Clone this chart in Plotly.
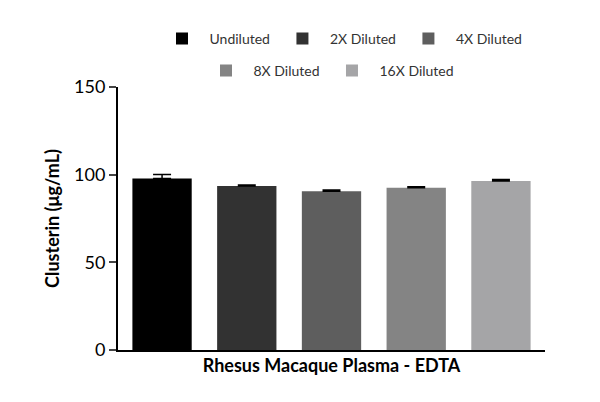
import plotly.graph_objects as go

names = ["Undiluted", "2X Diluted", "4X Diluted", "8X Diluted", "16X Diluted"]
values = [97.8, 93.6, 90.6, 92.6, 96.4]
errors = [2.3, 0.5, 0.6, 0.5, 0.8]
colors = ["#000000", "#323232", "#5e5e5e", "#848484", "#a5a5a7"]
legend_ids = ["legend", "legend", "legend", "legend2", "legend2"]

fig = go.Figure()
for i, (n, v, e, c, lg) in enumerate(zip(names, values, errors, colors, legend_ids)):
    fig.add_trace(go.Bar(
        x=[i], y=[v], name=n, marker=dict(color=c, line=dict(width=0)), width=0.7,
        legend=lg,
        error_y=dict(type="data", symmetric=False, array=[e], arrayminus=[0],
                     color="black", thickness=1.5, width=9),
    ))

leg_common = dict(orientation="h", xref="container", yref="container", xanchor="center",
                  yanchor="middle", itemwidth=45, font=dict(size=14, color="#333"),
                  traceorder="normal", bgcolor="rgba(0,0,0,0)")

fig.update_layout(
    width=600, height=402, plot_bgcolor="white", paper_bgcolor="white",
    margin=dict(l=110, r=63, t=59, b=60),
    font=dict(family="Lato, Open Sans, sans-serif", color="#000"),
    showlegend=True,
    legend=dict(x=0.555, y=1 - 31 / 402, **leg_common),
    legend2=dict(x=0.535, y=1 - 63 / 402, **leg_common),
    xaxis=dict(range=[-0.52, 4.52], showticklabels=False, ticks="", showgrid=False,
               showline=True, linecolor="black", linewidth=2, zeroline=False, automargin=False,
               title=dict(text="<b>Rhesus Macaque Plasma - EDTA</b>", font=dict(size=18), standoff=8)),
    yaxis=dict(range=[0, 150], tickvals=[0, 50, 100, 150], ticks="outside", ticklen=7,
               tickwidth=2, showgrid=False, showline=True, linecolor="black", linewidth=2,
               zeroline=False, tickfont=dict(size=18), automargin=False,
               title=dict(text="<b>Clusterin (μg/mL)</b>", font=dict(size=18), standoff=10)),
)
fig.write_html("out.html")
